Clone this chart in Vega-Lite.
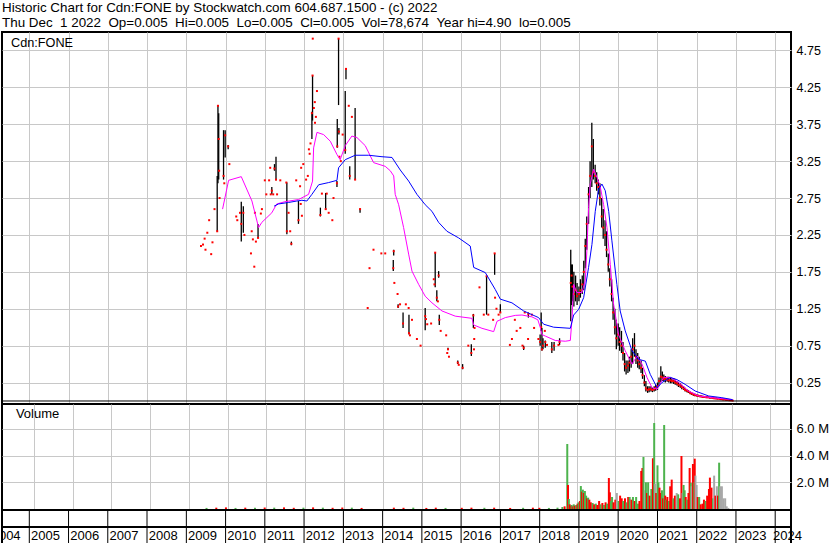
{
"$schema": "https://vega.github.io/schema/vega-lite/v6.json",
"padding": 0,
"background": "white",
"spacing": 0,
"bounds": "flush",
"title": {"text": "Historic Chart for Cdn:FONE by Stockwatch.com 604.687.1500 - (c) 2022", "subtitle": "Thu Dec\u00a0\u00a01 2022\u00a0\u00a0Op=0.005\u00a0\u00a0Hi=0.005\u00a0\u00a0Lo=0.005\u00a0\u00a0Cl=0.005\u00a0\u00a0Vol=78,674\u00a0\u00a0Year hi=4.90\u00a0\u00a0lo=0.005", "anchor": "start", "fontSize": 13.4, "fontWeight": "normal", "font": "Liberation Sans", "color": "#000", "subtitleFontSize": 13.4, "subtitleFont": "Liberation Sans", "subtitleColor": "#000", "subtitleFontWeight": "normal", "subtitlePadding": 1.5, "offset": 2, "dx": 2},
"resolve": {"scale": {"x": "independent", "y": "independent", "color": "independent"}},
"vconcat": [
{
"width": 789, "height": 372,
"layer": [
{"data": {"name": "ohlc"}, "mark": {"type": "rule", "color": "#000", "strokeWidth": 1.3},
 "encoding": {
  "x": {"field": "d", "type": "temporal", "scale": {"type": "utc", "domain": [{"year": 2004, "month": 4, "date": 22, "utc": true}, {"year": 2024, "month": 5, "date": 27, "utc": true}], "nice": false},
        "axis": {"grid": true, "labels": false, "ticks": false, "domain": false, "title": null, "values": [{"year":2005,"utc":true},{"year":2006,"utc":true},{"year":2007,"utc":true},{"year":2008,"utc":true},{"year":2009,"utc":true},{"year":2010,"utc":true},{"year":2011,"utc":true},{"year":2012,"utc":true},{"year":2013,"utc":true},{"year":2014,"utc":true},{"year":2015,"utc":true},{"year":2016,"utc":true},{"year":2017,"utc":true},{"year":2018,"utc":true},{"year":2019,"utc":true},{"year":2020,"utc":true},{"year":2021,"utc":true},{"year":2022,"utc":true},{"year":2023,"utc":true},{"year":2024,"utc":true}]}},
  "y": {"field": "l", "type": "quantitative", "scale": {"domain": [-0.0407, 5], "nice": false, "zero": false},
        "axis": {"orient": "right", "values": [0.25,0.5,0.75,1,1.25,1.5,1.75,2,2.25,2.5,2.75,3,3.25,3.5,3.75,4,4.25,4.5,4.75], "format": ".2f", "grid": true, "labelPadding": 5, "labelFontSize": 12.5, "labelOverlap": false, "title": null}},
  "y2": {"field": "h"}
 }},
{"data": {"name": "ohlc"}, "mark": {"type": "square", "size": 4, "color": "#ff0000", "opacity": 1},
 "encoding": {"x": {"field": "d", "type": "temporal"}, "y": {"field": "c", "type": "quantitative"}}},
{"data": {"name": "ma"}, "mark": {"type": "line", "strokeWidth": 1},
 "encoding": {"x": {"field": "d", "type": "temporal"}, "y": {"field": "v", "type": "quantitative"},
  "color": {"field": "s", "type": "nominal", "scale": {"domain": ["m", "b"], "range": ["#ff00ff", "#0000ff"]}, "legend": null}}},
{"data": {"values": [{}]}, "mark": {"type": "rule", "color": "#000", "strokeWidth": 1},
 "encoding": {"y": {"datum": 0, "type": "quantitative"}}},
{"data": {"values": [{"label": "Cdn:FONE"}]}, "mark": {"type": "text", "align": "left", "baseline": "middle", "fontSize": 12.7, "font": "Liberation Sans", "color": "#000"},
 "encoding": {"x": {"datum": {"year": 2004, "month": 7, "date": 15, "utc": true}, "type": "temporal"}, "y": {"datum": 4.85, "type": "quantitative"}, "text": {"field": "label", "type": "nominal"}}}
]
},
{
"width": 789, "height": 106,
"layer": [
{"data": {"name": "vol"},
"mark": {"type": "bar", "width": 2},
"encoding": {
 "x": {"field": "d", "type": "temporal", "scale": {"type": "utc", "domain": [{"year": 2004, "month": 4, "date": 22, "utc": true}, {"year": 2024, "month": 5, "date": 27, "utc": true}], "nice": false},
       "axis": {"grid": true, "labels": false, "ticks": false, "domain": false, "title": null, "values": [{"year":2005,"utc":true},{"year":2006,"utc":true},{"year":2007,"utc":true},{"year":2008,"utc":true},{"year":2009,"utc":true},{"year":2010,"utc":true},{"year":2011,"utc":true},{"year":2012,"utc":true},{"year":2013,"utc":true},{"year":2014,"utc":true},{"year":2015,"utc":true},{"year":2016,"utc":true},{"year":2017,"utc":true},{"year":2018,"utc":true},{"year":2019,"utc":true},{"year":2020,"utc":true},{"year":2021,"utc":true},{"year":2022,"utc":true},{"year":2023,"utc":true},{"year":2024,"utc":true}]}},
 "y": {"field": "v", "type": "quantitative", "scale": {"domain": [-0.075, 7.865], "nice": false, "zero": false},
       "axis": {"orient": "right", "values": [2, 4, 6], "labelExpr": "format(datum.value, '.1f') + ' M'", "grid": true, "labelPadding": 5, "labelFontSize": 13, "labelOverlap": false, "title": null}},
 "y2": {"datum": 0},
 "color": {"field": "t", "type": "nominal", "scale": {"domain": ["up", "down", "flat"], "range": ["#4db34d", "#ff0000", "#a8a8a8"]}, "legend": null}
}},
{"data": {"values": [{"label": "Volume"}]}, "mark": {"type": "text", "align": "left", "baseline": "middle", "fontSize": 13, "font": "Liberation Sans", "color": "#000"},
 "encoding": {"x": {"datum": {"year": 2004, "month": 7, "date": 15, "utc": true}, "type": "temporal"}, "y": {"datum": 7.1, "type": "quantitative"}, "text": {"field": "label", "type": "nominal"}}}
]
},
{
"width": 789, "height": 34,
"data": {"name": "years"},
"layer": [
{"mark": {"type": "rule", "color": "#000", "strokeWidth": 1},
 "encoding": {"x": {"field": "d", "type": "temporal", "scale": {"type": "utc", "domain": [{"year": 2004, "month": 4, "date": 22, "utc": true}, {"year": 2024, "month": 5, "date": 27, "utc": true}], "nice": false, "clamp": true}, "axis": null}}},
{"data": {"values": [{}]}, "mark": {"type": "rule", "color": "#000", "strokeWidth": 2},
 "encoding": {"y": {"datum": 0.5, "type": "quantitative", "scale": {"domain": [0, 1], "nice": false, "zero": false}, "axis": null}}},
{"transform": [{"filter": "datum.yr != '2024'"}],
 "mark": {"type": "text", "fontSize": 13, "dx": -3.5, "baseline": "middle", "align": "center", "font": "Liberation Sans", "color": "#000", "clip": true},
 "encoding": {"x": {"field": "d", "type": "temporal", "timeUnit": "utcyear", "bandPosition": 0.5}, "y": {"datum": 0.25, "type": "quantitative"}, "text": {"field": "yr", "type": "nominal"}}},
{"transform": [{"filter": "datum.yr == '2024'"}],
 "mark": {"type": "text", "fontSize": 13, "dx": -3.5, "baseline": "middle", "align": "center", "font": "Liberation Sans", "color": "#000"},
 "encoding": {"x": {"field": "d", "type": "temporal", "timeUnit": "utcyear", "bandPosition": 0.5}, "y": {"datum": 0.25, "type": "quantitative"}, "text": {"field": "yr", "type": "nominal"}}}
]
}
],
"datasets": {
"years": [
{"d":"2004-01-01","yr":"2004"},{"d":"2005-01-01","yr":"2005"},{"d":"2006-01-01","yr":"2006"},{"d":"2007-01-01","yr":"2007"},{"d":"2008-01-01","yr":"2008"},{"d":"2009-01-01","yr":"2009"},{"d":"2010-01-01","yr":"2010"},{"d":"2011-01-01","yr":"2011"},{"d":"2012-01-01","yr":"2012"},{"d":"2013-01-01","yr":"2013"},{"d":"2014-01-01","yr":"2014"},{"d":"2015-01-01","yr":"2015"},{"d":"2016-01-01","yr":"2016"},{"d":"2017-01-01","yr":"2017"},{"d":"2018-01-01","yr":"2018"},{"d":"2019-01-01","yr":"2019"},{"d":"2020-01-01","yr":"2020"},{"d":"2021-01-01","yr":"2021"},{"d":"2022-01-01","yr":"2022"},{"d":"2023-01-01","yr":"2023"},{"d":"2024-01-01","yr":"2024"}
],
"ohlc": [
{"d":"2009-05-17","l":2.10,"h":2.10,"c":2.10},
{"d":"2009-06-05","l":2.12,"h":2.12,"c":2.12},
{"d":"2009-06-20","l":2.20,"h":2.20,"c":2.20},
{"d":"2009-06-28","l":2.05,"h":2.05,"c":2.05},
{"d":"2009-07-15","l":2.28,"h":2.28,"c":2.28},
{"d":"2009-08-01","l":2.45,"h":2.45,"c":2.45},
{"d":"2009-08-20","l":1.99,"h":1.99,"c":1.99},
{"d":"2009-09-01","l":2.15,"h":2.15,"c":2.15},
{"d":"2009-09-20","l":2.60,"h":2.60,"c":2.60},
{"d":"2009-10-15","l":2.30,"h":3.05,"c":2.30},
{"d":"2009-10-22","l":2.95,"h":4.01,"c":4.00},
{"d":"2009-10-29","l":3.00,"h":3.90,"c":3.55},
{"d":"2009-11-02","l":3.12,"h":3.12,"c":3.12},
{"d":"2009-11-06","l":2.75,"h":2.75,"c":2.75},
{"d":"2009-12-13","l":3.00,"h":3.67,"c":3.05},
{"d":"2009-12-20","l":2.95,"h":2.95,"c":2.95},
{"d":"2009-12-28","l":3.30,"h":3.67,"c":3.60},
{"d":"2010-01-25","l":3.41,"h":3.47,"c":3.45},
{"d":"2010-02-05","l":3.21,"h":3.21,"c":3.21},
{"d":"2010-04-10","l":2.50,"h":2.50,"c":2.50},
{"d":"2010-04-20","l":2.45,"h":2.45,"c":2.45},
{"d":"2010-05-15","l":2.55,"h":2.55,"c":2.55},
{"d":"2010-05-27","l":2.16,"h":2.70,"c":2.40},
{"d":"2010-06-15","l":2.28,"h":2.64,"c":2.55},
{"d":"2010-06-25","l":2.25,"h":2.25,"c":2.25},
{"d":"2010-08-25","l":2.00,"h":2.00,"c":2.00},
{"d":"2010-09-01","l":2.30,"h":2.30,"c":2.30},
{"d":"2010-09-12","l":2.19,"h":2.19,"c":2.19},
{"d":"2010-09-25","l":1.82,"h":1.82,"c":1.82},
{"d":"2010-10-01","l":2.55,"h":2.55,"c":2.55},
{"d":"2010-10-10","l":2.16,"h":2.16,"c":2.16},
{"d":"2010-10-30","l":2.21,"h":2.40,"c":2.21},
{"d":"2010-11-25","l":2.54,"h":2.54,"c":2.54},
{"d":"2010-12-05","l":2.60,"h":2.60,"c":2.60},
{"d":"2011-01-01","l":2.99,"h":2.99,"c":2.99},
{"d":"2011-01-15","l":2.80,"h":2.80,"c":2.80},
{"d":"2011-02-10","l":2.99,"h":2.99,"c":2.99},
{"d":"2011-02-20","l":3.16,"h":3.16,"c":3.16},
{"d":"2011-02-25","l":2.80,"h":2.80,"c":2.80},
{"d":"2011-03-07","l":2.80,"h":2.90,"c":2.85},
{"d":"2011-03-20","l":2.80,"h":2.80,"c":2.80},
{"d":"2011-04-01","l":3.12,"h":3.21,"c":3.15},
{"d":"2011-04-15","l":2.99,"h":3.31,"c":3.00},
{"d":"2011-04-25","l":2.80,"h":2.80,"c":2.80},
{"d":"2011-05-25","l":2.99,"h":2.99,"c":2.99},
{"d":"2011-07-20","l":2.96,"h":2.96,"c":2.96},
{"d":"2011-07-25","l":2.26,"h":2.96,"c":2.30},
{"d":"2011-08-10","l":2.55,"h":2.55,"c":2.55},
{"d":"2011-08-25","l":2.30,"h":2.30,"c":2.30},
{"d":"2011-09-05","l":2.11,"h":2.16,"c":2.13},
{"d":"2011-10-20","l":2.99,"h":2.99,"c":2.99},
{"d":"2011-11-10","l":2.40,"h":2.71,"c":2.45},
{"d":"2011-11-25","l":2.91,"h":2.91,"c":2.91},
{"d":"2011-12-01","l":2.67,"h":2.67,"c":2.67},
{"d":"2011-12-05","l":3.16,"h":3.16,"c":3.16},
{"d":"2011-12-12","l":2.51,"h":2.51,"c":2.51},
{"d":"2011-12-25","l":3.21,"h":3.21,"c":3.21},
{"d":"2012-01-20","l":3.00,"h":3.00,"c":3.00},
{"d":"2012-02-05","l":3.05,"h":3.05,"c":3.05},
{"d":"2012-02-15","l":3.41,"h":3.41,"c":3.41},
{"d":"2012-02-22","l":3.35,"h":3.35,"c":3.35},
{"d":"2012-03-01","l":3.49,"h":3.49,"c":3.49},
{"d":"2012-03-14","l":3.55,"h":3.92,"c":3.90},
{"d":"2012-03-20","l":3.80,"h":4.41,"c":4.41},
{"d":"2012-03-22","l":4.91,"h":4.91,"c":4.91},
{"d":"2012-04-01","l":3.97,"h":3.97,"c":3.97},
{"d":"2012-04-10","l":4.05,"h":4.05,"c":4.05},
{"d":"2012-04-12","l":3.77,"h":3.77,"c":3.77},
{"d":"2012-04-20","l":3.85,"h":3.85,"c":3.85},
{"d":"2012-04-30","l":4.20,"h":4.20,"c":4.20},
{"d":"2012-06-01","l":2.50,"h":2.62,"c":2.52},
{"d":"2012-06-15","l":2.81,"h":2.81,"c":2.81},
{"d":"2012-07-20","l":2.59,"h":2.82,"c":2.60},
{"d":"2012-07-30","l":2.81,"h":2.81,"c":2.81},
{"d":"2012-08-17","l":2.55,"h":2.55,"c":2.55},
{"d":"2012-09-20","l":2.45,"h":2.45,"c":2.45},
{"d":"2012-10-01","l":2.75,"h":2.75,"c":2.75},
{"d":"2012-11-02","l":2.90,"h":2.98,"c":2.95},
{"d":"2012-11-05","l":3.43,"h":3.82,"c":3.45},
{"d":"2012-11-17","l":4.01,"h":4.91,"c":4.91},
{"d":"2012-11-20","l":3.61,"h":3.70,"c":3.65},
{"d":"2012-11-25","l":3.31,"h":3.31,"c":3.31},
{"d":"2012-12-08","l":3.25,"h":3.25,"c":3.25},
{"d":"2012-12-25","l":3.61,"h":3.61,"c":3.61},
{"d":"2013-01-18","l":3.35,"h":4.20,"c":3.40},
{"d":"2013-01-25","l":4.36,"h":4.50,"c":4.50},
{"d":"2013-02-20","l":4.00,"h":4.00,"c":4.00},
{"d":"2013-03-01","l":3.00,"h":3.18,"c":3.05},
{"d":"2013-03-21","l":3.85,"h":3.85,"c":3.85},
{"d":"2013-04-20","l":3.00,"h":3.97,"c":3.00},
{"d":"2013-06-05","l":2.55,"h":2.61,"c":2.60},
{"d":"2013-08-15","l":1.26,"h":1.26,"c":1.26},
{"d":"2013-09-01","l":1.80,"h":1.80,"c":1.80},
{"d":"2013-10-08","l":2.05,"h":2.05,"c":2.05},
{"d":"2013-12-20","l":2.00,"h":2.00,"c":2.00},
{"d":"2014-01-25","l":2.00,"h":2.00,"c":2.00},
{"d":"2014-04-10","l":1.76,"h":1.91,"c":1.80},
{"d":"2014-04-14","l":1.97,"h":2.05,"c":2.03},
{"d":"2014-04-20","l":1.60,"h":1.60,"c":1.60},
{"d":"2014-05-20","l":1.45,"h":1.45,"c":1.45},
{"d":"2014-05-25","l":1.26,"h":1.31,"c":1.28},
{"d":"2014-06-12","l":1.31,"h":1.31,"c":1.31},
{"d":"2014-07-10","l":0.99,"h":1.20,"c":1.05},
{"d":"2014-08-05","l":1.31,"h":1.31,"c":1.31},
{"d":"2014-08-31","l":1.26,"h":1.26,"c":1.26},
{"d":"2014-09-03","l":0.90,"h":1.17,"c":0.92},
{"d":"2014-09-12","l":0.89,"h":0.89,"c":0.89},
{"d":"2014-10-01","l":1.10,"h":1.10,"c":1.10},
{"d":"2014-11-16","l":0.84,"h":0.84,"c":0.84},
{"d":"2014-12-20","l":0.75,"h":0.75,"c":0.75},
{"d":"2015-02-01","l":0.96,"h":1.26,"c":1.15},
{"d":"2015-02-08","l":1.11,"h":1.11,"c":1.11},
{"d":"2015-02-20","l":1.04,"h":1.04,"c":1.04},
{"d":"2015-03-28","l":1.05,"h":1.05,"c":1.05},
{"d":"2015-04-22","l":1.65,"h":1.65,"c":1.65},
{"d":"2015-04-28","l":1.58,"h":1.58,"c":1.58},
{"d":"2015-05-05","l":1.54,"h":2.01,"c":2.01},
{"d":"2015-05-20","l":1.35,"h":1.50,"c":1.40},
{"d":"2015-05-30","l":1.35,"h":1.35,"c":1.35},
{"d":"2015-06-06","l":1.67,"h":1.76,"c":1.70},
{"d":"2015-06-12","l":1.03,"h":1.17,"c":1.10},
{"d":"2015-06-25","l":0.95,"h":0.95,"c":0.95},
{"d":"2015-08-15","l":0.89,"h":0.89,"c":0.89},
{"d":"2015-08-25","l":0.65,"h":0.65,"c":0.65},
{"d":"2015-09-01","l":0.70,"h":0.72,"c":0.70},
{"d":"2015-09-10","l":0.60,"h":0.60,"c":0.60},
{"d":"2015-12-01","l":0.50,"h":0.55,"c":0.52},
{"d":"2015-12-10","l":0.49,"h":0.49,"c":0.49},
{"d":"2016-01-15","l":0.43,"h":0.50,"c":0.45},
{"d":"2016-03-08","l":0.75,"h":0.75,"c":0.75},
{"d":"2016-04-05","l":0.61,"h":0.77,"c":0.65},
{"d":"2016-04-24","l":0.99,"h":1.18,"c":1.16},
{"d":"2016-04-30","l":0.70,"h":0.70,"c":0.70},
{"d":"2016-05-02","l":0.84,"h":0.84,"c":0.84},
{"d":"2016-05-05","l":0.99,"h":0.99,"c":0.99},
{"d":"2016-06-20","l":1.54,"h":1.54,"c":1.54},
{"d":"2016-07-30","l":1.17,"h":1.17,"c":1.17},
{"d":"2016-08-25","l":1.17,"h":1.69,"c":1.69},
{"d":"2016-09-10","l":1.17,"h":1.17,"c":1.17},
{"d":"2016-10-25","l":1.10,"h":1.10,"c":1.10},
{"d":"2016-11-08","l":1.71,"h":2.00,"c":2.00},
{"d":"2016-11-12","l":1.40,"h":1.40,"c":1.40},
{"d":"2016-11-25","l":1.25,"h":1.25,"c":1.25},
{"d":"2016-12-15","l":1.17,"h":1.17,"c":1.17},
{"d":"2016-12-31","l":1.20,"h":1.31,"c":1.20},
{"d":"2017-03-30","l":0.76,"h":0.76,"c":0.76},
{"d":"2017-04-18","l":0.84,"h":0.84,"c":0.84},
{"d":"2017-05-15","l":1.10,"h":1.10,"c":1.10},
{"d":"2017-06-01","l":0.95,"h":0.95,"c":0.95},
{"d":"2017-07-05","l":0.99,"h":0.99,"c":0.99},
{"d":"2017-07-25","l":0.75,"h":0.75,"c":0.75},
{"d":"2017-08-05","l":0.69,"h":0.75,"c":0.72},
{"d":"2017-08-15","l":1.20,"h":1.20,"c":1.20},
{"d":"2017-09-15","l":0.84,"h":0.84,"c":0.84},
{"d":"2017-09-18","l":1.13,"h":1.20,"c":1.18},
{"d":"2017-10-20","l":1.17,"h":1.17,"c":1.17},
{"d":"2017-11-10","l":0.99,"h":0.99,"c":0.99},
{"d":"2017-12-20","l":0.84,"h":0.84,"c":0.84},
{"d":"2018-01-05","l":0.75,"h":0.90,"c":0.80},
{"d":"2018-01-15","l":0.95,"h":1.20,"c":1.00},
{"d":"2018-01-22","l":0.68,"h":0.99,"c":0.70},
{"d":"2018-02-01","l":0.70,"h":0.85,"c":0.75},
{"d":"2018-02-18","l":0.95,"h":0.95,"c":0.95},
{"d":"2018-02-22","l":0.72,"h":0.82,"c":0.80},
{"d":"2018-03-10","l":0.76,"h":0.76,"c":0.76},
{"d":"2018-04-24","l":0.65,"h":0.80,"c":0.70},
{"d":"2018-05-15","l":0.68,"h":0.80,"c":0.75},
{"d":"2018-06-25","l":0.76,"h":0.76,"c":0.76},
{"d":"2018-07-05","l":0.76,"h":0.85,"c":0.80},
{"d":"2018-10-17","l":1.08,"h":2.05,"c":1.60},
{"d":"2018-10-25","l":1.30,"h":1.85,"c":1.70},
{"d":"2018-11-01","l":1.35,"h":1.85,"c":1.55},
{"d":"2018-11-15","l":1.28,"h":1.75,"c":1.45},
{"d":"2018-12-01","l":1.35,"h":1.70,"c":1.50},
{"d":"2018-12-15","l":1.30,"h":1.60,"c":1.42},
{"d":"2019-01-01","l":1.35,"h":1.55,"c":1.45},
{"d":"2019-01-15","l":1.40,"h":1.65,"c":1.50},
{"d":"2019-02-01","l":1.45,"h":1.70,"c":1.58},
{"d":"2019-02-15","l":1.50,"h":1.90,"c":1.75},
{"d":"2019-03-01","l":1.80,"h":2.20,"c":2.10},
{"d":"2019-03-15","l":2.05,"h":2.50,"c":2.40},
{"d":"2019-04-01","l":2.40,"h":2.90,"c":2.80},
{"d":"2019-04-15","l":2.75,"h":3.25,"c":3.05},
{"d":"2019-05-01","l":2.90,"h":3.77,"c":3.45},
{"d":"2019-05-15","l":3.00,"h":3.55,"c":3.10},
{"d":"2019-06-01","l":2.95,"h":3.20,"c":3.05},
{"d":"2019-06-15","l":2.85,"h":3.10,"c":2.95},
{"d":"2019-07-01","l":2.80,"h":3.00,"c":2.90},
{"d":"2019-07-15","l":2.65,"h":2.95,"c":2.75},
{"d":"2019-08-01","l":2.35,"h":2.75,"c":2.50},
{"d":"2019-08-15","l":2.20,"h":2.60,"c":2.35},
{"d":"2019-09-01","l":2.10,"h":2.45,"c":2.25},
{"d":"2019-09-15","l":1.95,"h":2.30,"c":2.05},
{"d":"2019-10-01","l":1.75,"h":2.00,"c":1.85},
{"d":"2019-10-15","l":1.55,"h":1.80,"c":1.65},
{"d":"2019-11-01","l":1.35,"h":1.65,"c":1.45},
{"d":"2019-11-15","l":1.10,"h":1.40,"c":1.20},
{"d":"2019-12-01","l":0.90,"h":1.25,"c":1.00},
{"d":"2019-12-15","l":0.70,"h":1.10,"c":0.85},
{"d":"2020-01-01","l":0.75,"h":1.05,"c":0.90},
{"d":"2020-01-15","l":0.68,"h":1.00,"c":0.80},
{"d":"2020-02-01","l":0.65,"h":0.95,"c":0.75},
{"d":"2020-02-15","l":0.55,"h":0.80,"c":0.65},
{"d":"2020-03-01","l":0.40,"h":0.65,"c":0.50},
{"d":"2020-03-15","l":0.36,"h":0.55,"c":0.45},
{"d":"2020-04-01","l":0.38,"h":0.55,"c":0.48},
{"d":"2020-04-15","l":0.40,"h":0.60,"c":0.52},
{"d":"2020-05-01","l":0.45,"h":0.70,"c":0.60},
{"d":"2020-05-15","l":0.50,"h":0.85,"c":0.70},
{"d":"2020-06-01","l":0.60,"h":0.92,"c":0.75},
{"d":"2020-06-15","l":0.50,"h":0.70,"c":0.60},
{"d":"2020-07-01","l":0.45,"h":0.65,"c":0.55},
{"d":"2020-07-15","l":0.43,"h":0.60,"c":0.50},
{"d":"2020-08-01","l":0.38,"h":0.55,"c":0.45},
{"d":"2020-08-15","l":0.30,"h":0.45,"c":0.35},
{"d":"2020-09-01","l":0.20,"h":0.35,"c":0.25},
{"d":"2020-09-15","l":0.13,"h":0.27,"c":0.17},
{"d":"2020-10-01","l":0.11,"h":0.20,"c":0.15},
{"d":"2020-10-15","l":0.12,"h":0.20,"c":0.16},
{"d":"2020-11-01","l":0.13,"h":0.20,"c":0.16},
{"d":"2020-11-15","l":0.12,"h":0.18,"c":0.15},
{"d":"2020-12-01","l":0.13,"h":0.20,"c":0.16},
{"d":"2020-12-15","l":0.14,"h":0.22,"c":0.18},
{"d":"2021-01-01","l":0.15,"h":0.25,"c":0.20},
{"d":"2021-01-15","l":0.20,"h":0.32,"c":0.27},
{"d":"2021-02-01","l":0.25,"h":0.47,"c":0.33},
{"d":"2021-02-15","l":0.27,"h":0.40,"c":0.32},
{"d":"2021-03-01","l":0.26,"h":0.36,"c":0.30},
{"d":"2021-03-15","l":0.25,"h":0.34,"c":0.30},
{"d":"2021-04-01","l":0.26,"h":0.33,"c":0.29},
{"d":"2021-04-15","l":0.25,"h":0.33,"c":0.28},
{"d":"2021-05-01","l":0.24,"h":0.32,"c":0.28},
{"d":"2021-05-15","l":0.24,"h":0.31,"c":0.27},
{"d":"2021-06-01","l":0.23,"h":0.31,"c":0.27},
{"d":"2021-06-15","l":0.22,"h":0.29,"c":0.25},
{"d":"2021-07-01","l":0.21,"h":0.27,"c":0.24},
{"d":"2021-07-15","l":0.19,"h":0.26,"c":0.22},
{"d":"2021-08-01","l":0.18,"h":0.24,"c":0.21},
{"d":"2021-08-15","l":0.16,"h":0.22,"c":0.19},
{"d":"2021-09-01","l":0.15,"h":0.20,"c":0.17},
{"d":"2021-09-15","l":0.13,"h":0.18,"c":0.15},
{"d":"2021-10-01","l":0.12,"h":0.16,"c":0.14},
{"d":"2021-10-15","l":0.11,"h":0.15,"c":0.13},
{"d":"2021-11-01","l":0.09,"h":0.13,"c":0.11},
{"d":"2021-11-15","l":0.08,"h":0.12,"c":0.10},
{"d":"2021-12-01","l":0.07,"h":0.11,"c":0.09},
{"d":"2021-12-15","l":0.065,"h":0.10,"c":0.08},
{"d":"2022-01-01","l":0.06,"h":0.09,"c":0.075},
{"d":"2022-01-15","l":0.055,"h":0.085,"c":0.07},
{"d":"2022-02-01","l":0.05,"h":0.08,"c":0.065},
{"d":"2022-02-15","l":0.05,"h":0.075,"c":0.06},
{"d":"2022-03-01","l":0.045,"h":0.07,"c":0.055},
{"d":"2022-03-15","l":0.045,"h":0.065,"c":0.055},
{"d":"2022-04-01","l":0.04,"h":0.065,"c":0.05},
{"d":"2022-04-15","l":0.04,"h":0.06,"c":0.05},
{"d":"2022-05-01","l":0.035,"h":0.055,"c":0.045},
{"d":"2022-05-15","l":0.035,"h":0.055,"c":0.045},
{"d":"2022-06-01","l":0.03,"h":0.05,"c":0.04},
{"d":"2022-06-15","l":0.03,"h":0.045,"c":0.035},
{"d":"2022-07-01","l":0.025,"h":0.045,"c":0.035},
{"d":"2022-07-15","l":0.025,"h":0.04,"c":0.03},
{"d":"2022-08-01","l":0.02,"h":0.04,"c":0.03},
{"d":"2022-08-15","l":0.02,"h":0.035,"c":0.025},
{"d":"2022-09-01","l":0.015,"h":0.03,"c":0.02},
{"d":"2022-09-15","l":0.015,"h":0.03,"c":0.02},
{"d":"2022-10-01","l":0.01,"h":0.025,"c":0.015},
{"d":"2022-10-15","l":0.01,"h":0.02,"c":0.015},
{"d":"2022-11-01","l":0.005,"h":0.02,"c":0.01},
{"d":"2022-11-15","l":0.005,"h":0.015,"c":0.01},
{"d":"2022-12-01","l":0.005,"h":0.005,"c":0.005}
],
"ma": [
{"d":"2009-12-04","v":2.60,"s":"m"},{"d":"2010-01-29","v":2.99,"s":"m"},{"d":"2010-05-27","v":3.04,"s":"m"},{"d":"2010-09-03","v":2.71,"s":"m"},{"d":"2010-11-04","v":2.35,"s":"m"},{"d":"2010-12-04","v":2.42,"s":"m"},{"d":"2011-03-07","v":2.55,"s":"m"},{"d":"2011-04-22","v":2.67,"s":"m"},{"d":"2011-07-06","v":2.70,"s":"m"},{"d":"2011-11-11","v":2.73,"s":"m"},{"d":"2012-02-12","v":2.80,"s":"m"},{"d":"2012-03-20","v":2.98,"s":"m"},{"d":"2012-03-30","v":3.43,"s":"m"},{"d":"2012-04-30","v":3.64,"s":"m"},{"d":"2012-07-01","v":3.61,"s":"m"},{"d":"2012-09-01","v":3.52,"s":"m"},{"d":"2012-11-02","v":3.34,"s":"m"},{"d":"2012-12-02","v":3.27,"s":"m"},{"d":"2013-01-18","v":3.46,"s":"m"},{"d":"2013-03-21","v":3.59,"s":"m"},{"d":"2013-05-07","v":3.57,"s":"m"},{"d":"2013-07-23","v":3.46,"s":"m"},{"d":"2013-10-09","v":3.23,"s":"m"},{"d":"2014-01-25","v":3.18,"s":"m"},{"d":"2014-03-13","v":3.12,"s":"m"},{"d":"2014-04-14","v":3.05,"s":"m"},{"d":"2014-04-28","v":2.80,"s":"m"},{"d":"2014-05-30","v":2.66,"s":"m"},{"d":"2014-07-15","v":2.35,"s":"m"},{"d":"2014-08-31","v":1.99,"s":"m"},{"d":"2014-10-01","v":1.76,"s":"m"},{"d":"2014-12-02","v":1.58,"s":"m"},{"d":"2015-02-01","v":1.42,"s":"m"},{"d":"2015-04-05","v":1.33,"s":"m"},{"d":"2015-07-07","v":1.22,"s":"m"},{"d":"2015-11-07","v":1.15,"s":"m"},{"d":"2016-04-11","v":1.12,"s":"m"},{"d":"2016-04-27","v":1.03,"s":"m"},{"d":"2016-07-13","v":0.985,"s":"m"},{"d":"2016-10-30","v":0.94,"s":"m"},{"d":"2016-11-30","v":1.08,"s":"m"},{"d":"2017-02-15","v":1.13,"s":"m"},{"d":"2017-05-19","v":1.16,"s":"m"},{"d":"2017-07-20","v":1.165,"s":"m"},{"d":"2017-10-21","v":1.14,"s":"m"},{"d":"2017-12-15","v":1.10,"s":"m"},{"d":"2018-01-06","v":1.00,"s":"m"},{"d":"2018-01-22","v":0.90,"s":"m"},{"d":"2018-02-22","v":0.88,"s":"m"},{"d":"2018-05-26","v":0.82,"s":"m"},{"d":"2018-08-27","v":0.81,"s":"m"},{"d":"2018-10-13","v":0.82,"s":"m"},{"d":"2018-10-22","v":0.99,"s":"m"},{"d":"2018-10-28","v":1.08,"s":"m"},{"d":"2018-11-13","v":1.58,"s":"m"},{"d":"2018-12-13","v":1.47,"s":"m"},{"d":"2019-01-29","v":1.47,"s":"m"},{"d":"2019-03-01","v":1.63,"s":"m"},{"d":"2019-03-16","v":2.03,"s":"m"},{"d":"2019-04-01","v":2.62,"s":"m"},{"d":"2019-04-16","v":2.94,"s":"m"},{"d":"2019-05-18","v":3.14,"s":"m"},{"d":"2019-06-18","v":3.03,"s":"m"},{"d":"2019-07-18","v":2.91,"s":"m"},{"d":"2019-08-19","v":2.66,"s":"m"},{"d":"2019-09-19","v":2.35,"s":"m"},{"d":"2019-10-20","v":1.85,"s":"m"},{"d":"2019-11-20","v":1.31,"s":"m"},{"d":"2020-01-05","v":0.90,"s":"m"},{"d":"2020-03-07","v":0.68,"s":"m"},{"d":"2020-05-09","v":0.50,"s":"m"},{"d":"2020-06-25","v":0.61,"s":"m"},{"d":"2020-08-10","v":0.50,"s":"m"},{"d":"2020-09-25","v":0.32,"s":"m"},{"d":"2020-11-11","v":0.18,"s":"m"},{"d":"2020-12-28","v":0.16,"s":"m"},{"d":"2021-02-27","v":0.32,"s":"m"},{"d":"2021-04-30","v":0.32,"s":"m"},{"d":"2021-07-17","v":0.25,"s":"m"},{"d":"2021-10-18","v":0.135,"s":"m"},{"d":"2022-01-19","v":0.068,"s":"m"},{"d":"2022-05-22","v":0.045,"s":"m"},{"d":"2022-12-01","v":0.018,"s":"m"},
{"d":"2011-03-28","v":2.64,"s":"b"},{"d":"2011-05-09","v":2.67,"s":"b"},{"d":"2011-08-10","v":2.69,"s":"b"},{"d":"2011-10-26","v":2.71,"s":"b"},{"d":"2011-12-12","v":2.72,"s":"b"},{"d":"2012-01-27","v":2.71,"s":"b"},{"d":"2012-03-14","v":2.80,"s":"b"},{"d":"2012-05-16","v":2.93,"s":"b"},{"d":"2012-08-17","v":2.96,"s":"b"},{"d":"2012-11-02","v":2.99,"s":"b"},{"d":"2012-11-17","v":3.16,"s":"b"},{"d":"2013-01-18","v":3.27,"s":"b"},{"d":"2013-04-21","v":3.33,"s":"b"},{"d":"2013-08-24","v":3.33,"s":"b"},{"d":"2013-12-26","v":3.31,"s":"b"},{"d":"2014-03-29","v":3.30,"s":"b"},{"d":"2014-06-14","v":3.13,"s":"b"},{"d":"2014-08-31","v":2.98,"s":"b"},{"d":"2014-11-16","v":2.80,"s":"b"},{"d":"2015-02-01","v":2.66,"s":"b"},{"d":"2015-04-05","v":2.57,"s":"b"},{"d":"2015-06-06","v":2.42,"s":"b"},{"d":"2015-08-22","v":2.30,"s":"b"},{"d":"2015-12-09","v":2.21,"s":"b"},{"d":"2016-03-26","v":2.10,"s":"b"},{"d":"2016-04-27","v":1.81,"s":"b"},{"d":"2016-08-13","v":1.74,"s":"b"},{"d":"2016-11-14","v":1.51,"s":"b"},{"d":"2016-12-31","v":1.38,"s":"b"},{"d":"2017-04-18","v":1.33,"s":"b"},{"d":"2017-08-05","v":1.22,"s":"b"},{"d":"2017-12-22","v":1.13,"s":"b"},{"d":"2018-02-07","v":1.04,"s":"b"},{"d":"2018-05-11","v":1.00,"s":"b"},{"d":"2018-10-13","v":0.985,"s":"b"},{"d":"2018-11-13","v":1.165,"s":"b"},{"d":"2018-12-29","v":1.24,"s":"b"},{"d":"2019-02-14","v":1.40,"s":"b"},{"d":"2019-04-01","v":1.81,"s":"b"},{"d":"2019-05-02","v":2.12,"s":"b"},{"d":"2019-06-02","v":2.57,"s":"b"},{"d":"2019-07-03","v":2.87,"s":"b"},{"d":"2019-08-03","v":2.94,"s":"b"},{"d":"2019-09-03","v":2.85,"s":"b"},{"d":"2019-10-05","v":2.57,"s":"b"},{"d":"2019-11-04","v":2.17,"s":"b"},{"d":"2019-12-20","v":1.58,"s":"b"},{"d":"2020-01-20","v":1.22,"s":"b"},{"d":"2020-03-07","v":0.95,"s":"b"},{"d":"2020-05-09","v":0.68,"s":"b"},{"d":"2020-07-10","v":0.565,"s":"b"},{"d":"2020-09-10","v":0.54,"s":"b"},{"d":"2020-10-26","v":0.36,"s":"b"},{"d":"2020-12-28","v":0.18,"s":"b"},{"d":"2021-02-12","v":0.25,"s":"b"},{"d":"2021-04-30","v":0.32,"s":"b"},{"d":"2021-07-01","v":0.29,"s":"b"},{"d":"2021-09-16","v":0.225,"s":"b"},{"d":"2021-12-18","v":0.135,"s":"b"},{"d":"2022-04-22","v":0.068,"s":"b"},{"d":"2022-08-23","v":0.045,"s":"b"},{"d":"2022-12-01","v":0.018,"s":"b"}
],
"vol": [
{"d":"2009-06-15","v":0.08,"t":"up"},{"d":"2009-09-15","v":0.10,"t":"down"},{"d":"2009-12-15","v":0.12,"t":"down"},{"d":"2010-03-15","v":0.08,"t":"up"},{"d":"2010-06-15","v":0.10,"t":"down"},{"d":"2010-09-15","v":0.09,"t":"up"},{"d":"2010-12-15","v":0.11,"t":"down"},{"d":"2011-03-15","v":0.10,"t":"up"},{"d":"2011-06-15","v":0.12,"t":"down"},{"d":"2011-09-15","v":0.09,"t":"down"},{"d":"2011-12-15","v":0.10,"t":"up"},{"d":"2012-03-15","v":0.12,"t":"down"},{"d":"2012-06-15","v":0.10,"t":"up"},{"d":"2012-09-15","v":0.09,"t":"down"},{"d":"2012-12-15","v":0.11,"t":"down"},{"d":"2013-03-15","v":0.10,"t":"up"},{"d":"2013-06-15","v":0.08,"t":"down"},{"d":"2014-04-15","v":0.10,"t":"down"},{"d":"2014-07-15","v":0.09,"t":"down"},{"d":"2014-10-15","v":0.10,"t":"up"},{"d":"2015-02-15","v":0.08,"t":"down"},{"d":"2015-05-15","v":0.10,"t":"down"},{"d":"2015-08-15","v":0.08,"t":"up"},{"d":"2016-01-15","v":0.09,"t":"down"},{"d":"2016-04-15","v":0.10,"t":"down"},{"d":"2016-08-15","v":0.09,"t":"up"},{"d":"2016-11-15","v":0.10,"t":"down"},{"d":"2017-04-15","v":0.08,"t":"down"},{"d":"2017-08-15","v":0.09,"t":"up"},{"d":"2017-11-15","v":0.10,"t":"down"},{"d":"2018-01-15","v":0.09,"t":"down"},{"d":"2018-04-15","v":0.08,"t":"up"},{"d":"2018-07-05","v":0.10,"t":"up"},
{"d":"2018-08-20","v":0.15,"t":"up"},{"d":"2018-09-10","v":0.2,"t":"down"},{"d":"2018-10-05","v":4.87,"t":"up"},{"d":"2018-10-12","v":1.80,"t":"down"},{"d":"2018-10-20","v":0.75,"t":"up"},{"d":"2018-10-28","v":0.35,"t":"down"},{"d":"2018-11-05","v":0.25,"t":"down"},{"d":"2018-11-15","v":0.30,"t":"up"},{"d":"2018-11-25","v":0.20,"t":"down"},{"d":"2018-12-05","v":0.35,"t":"up"},{"d":"2018-12-15","v":0.25,"t":"down"},{"d":"2018-12-28","v":0.30,"t":"up"},{"d":"2019-01-10","v":0.40,"t":"down"},{"d":"2019-01-20","v":0.50,"t":"up"},{"d":"2019-02-01","v":0.60,"t":"down"},{"d":"2019-02-10","v":1.72,"t":"up"},{"d":"2019-02-20","v":1.30,"t":"down"},{"d":"2019-03-01","v":1.45,"t":"up"},{"d":"2019-03-10","v":1.20,"t":"down"},{"d":"2019-03-20","v":1.35,"t":"up"},{"d":"2019-04-01","v":1.00,"t":"up"},{"d":"2019-04-10","v":0.80,"t":"down"},{"d":"2019-04-20","v":0.85,"t":"up"},{"d":"2019-05-01","v":0.70,"t":"down"},{"d":"2019-05-15","v":0.50,"t":"down"},{"d":"2019-06-01","v":0.45,"t":"up"},{"d":"2019-06-15","v":0.35,"t":"down"},{"d":"2019-07-01","v":0.40,"t":"up"},{"d":"2019-07-15","v":0.30,"t":"down"},{"d":"2019-08-01","v":0.60,"t":"down"},{"d":"2019-08-15","v":0.35,"t":"up"},{"d":"2019-09-01","v":0.45,"t":"down"},{"d":"2019-09-15","v":0.30,"t":"up"},{"d":"2019-10-01","v":0.50,"t":"down"},{"d":"2019-10-15","v":0.40,"t":"up"},{"d":"2019-11-01","v":2.32,"t":"down"},{"d":"2019-11-10","v":1.25,"t":"down"},{"d":"2019-11-20","v":0.60,"t":"up"},{"d":"2019-12-01","v":0.90,"t":"up"},{"d":"2019-12-15","v":0.50,"t":"down"},{"d":"2020-01-01","v":0.70,"t":"down"},{"d":"2020-01-15","v":1.20,"t":"flat"},{"d":"2020-02-01","v":0.60,"t":"up"},{"d":"2020-02-15","v":1.00,"t":"down"},{"d":"2020-03-01","v":0.80,"t":"down"},{"d":"2020-03-15","v":0.60,"t":"up"},{"d":"2020-04-01","v":0.80,"t":"down"},{"d":"2020-04-15","v":0.50,"t":"up"},{"d":"2020-05-01","v":0.90,"t":"down"},{"d":"2020-05-15","v":0.90,"t":"up"},{"d":"2020-06-01","v":0.70,"t":"down"},{"d":"2020-06-15","v":0.90,"t":"up"},{"d":"2020-07-01","v":0.60,"t":"down"},{"d":"2020-07-15","v":0.90,"t":"up"},{"d":"2020-08-01","v":0.40,"t":"up"},{"d":"2020-08-15","v":0.60,"t":"down"},{"d":"2020-09-01","v":2.85,"t":"down"},{"d":"2020-09-12","v":3.07,"t":"down"},{"d":"2020-09-22","v":3.90,"t":"up"},{"d":"2020-10-05","v":1.40,"t":"flat"},{"d":"2020-10-15","v":2.00,"t":"up"},{"d":"2020-10-25","v":1.20,"t":"down"},{"d":"2020-11-05","v":2.00,"t":"up"},{"d":"2020-11-20","v":1.00,"t":"down"},{"d":"2020-12-05","v":1.50,"t":"up"},{"d":"2020-12-20","v":3.80,"t":"down"},{"d":"2021-01-01","v":6.44,"t":"up"},{"d":"2021-01-10","v":1.90,"t":"flat"},{"d":"2021-01-20","v":1.20,"t":"down"},{"d":"2021-02-01","v":3.27,"t":"up"},{"d":"2021-02-10","v":2.00,"t":"up"},{"d":"2021-02-20","v":1.60,"t":"down"},{"d":"2021-03-01","v":1.20,"t":"down"},{"d":"2021-03-15","v":1.40,"t":"up"},{"d":"2021-03-25","v":0.80,"t":"down"},{"d":"2021-04-05","v":6.29,"t":"up"},{"d":"2021-04-15","v":1.00,"t":"down"},{"d":"2021-04-25","v":0.70,"t":"up"},{"d":"2021-05-05","v":0.90,"t":"down"},{"d":"2021-05-20","v":0.60,"t":"up"},{"d":"2021-06-01","v":1.70,"t":"down"},{"d":"2021-06-15","v":2.20,"t":"down"},{"d":"2021-07-01","v":0.80,"t":"up"},{"d":"2021-07-15","v":1.00,"t":"down"},{"d":"2021-08-01","v":1.20,"t":"flat"},{"d":"2021-08-15","v":1.10,"t":"up"},{"d":"2021-09-01","v":0.80,"t":"down"},{"d":"2021-09-15","v":3.97,"t":"down"},{"d":"2021-09-25","v":1.20,"t":"flat"},{"d":"2021-10-05","v":1.80,"t":"up"},{"d":"2021-10-15","v":1.40,"t":"up"},{"d":"2021-10-25","v":0.90,"t":"down"},{"d":"2021-11-05","v":0.70,"t":"up"},{"d":"2021-11-20","v":1.20,"t":"down"},{"d":"2021-12-01","v":3.07,"t":"down"},{"d":"2021-12-12","v":1.95,"t":"up"},{"d":"2021-12-20","v":1.70,"t":"flat"},{"d":"2022-01-01","v":3.37,"t":"down"},{"d":"2022-01-10","v":2.00,"t":"up"},{"d":"2022-01-18","v":3.77,"t":"down"},{"d":"2022-01-25","v":2.50,"t":"flat"},{"d":"2022-02-05","v":1.80,"t":"flat"},{"d":"2022-02-15","v":0.90,"t":"down"},{"d":"2022-03-01","v":0.90,"t":"up"},{"d":"2022-03-15","v":0.35,"t":"down"},{"d":"2022-04-01","v":0.40,"t":"down"},{"d":"2022-04-15","v":0.70,"t":"down"},{"d":"2022-05-01","v":0.60,"t":"up"},{"d":"2022-05-15","v":1.00,"t":"down"},{"d":"2022-06-01","v":1.50,"t":"down"},{"d":"2022-06-10","v":2.35,"t":"down"},{"d":"2022-06-25","v":1.60,"t":"down"},{"d":"2022-07-10","v":0.80,"t":"up"},{"d":"2022-07-20","v":2.50,"t":"flat"},{"d":"2022-08-01","v":1.00,"t":"down"},{"d":"2022-08-15","v":1.70,"t":"flat"},{"d":"2022-08-25","v":1.00,"t":"down"},{"d":"2022-09-05","v":3.47,"t":"up"},{"d":"2022-09-15","v":1.70,"t":"flat"},{"d":"2022-10-01","v":1.70,"t":"flat"},{"d":"2022-10-15","v":0.80,"t":"flat"},{"d":"2022-11-01","v":0.80,"t":"flat"},{"d":"2022-11-15","v":0.20,"t":"flat"},{"d":"2022-12-01","v":0.08,"t":"flat"}
]
},
"config": {
 "font": "Liberation Sans",
 "view": {"stroke": "#000", "strokeWidth": 2},
 "axis": {"labelFont": "Liberation Sans", "labelColor": "#000", "gridColor": "#c8c8c8", "gridOpacity": 1, "gridWidth": 1, "domain": false, "ticks": false},
 "title": {"font": "Liberation Sans", "color": "#000"}
}
}
